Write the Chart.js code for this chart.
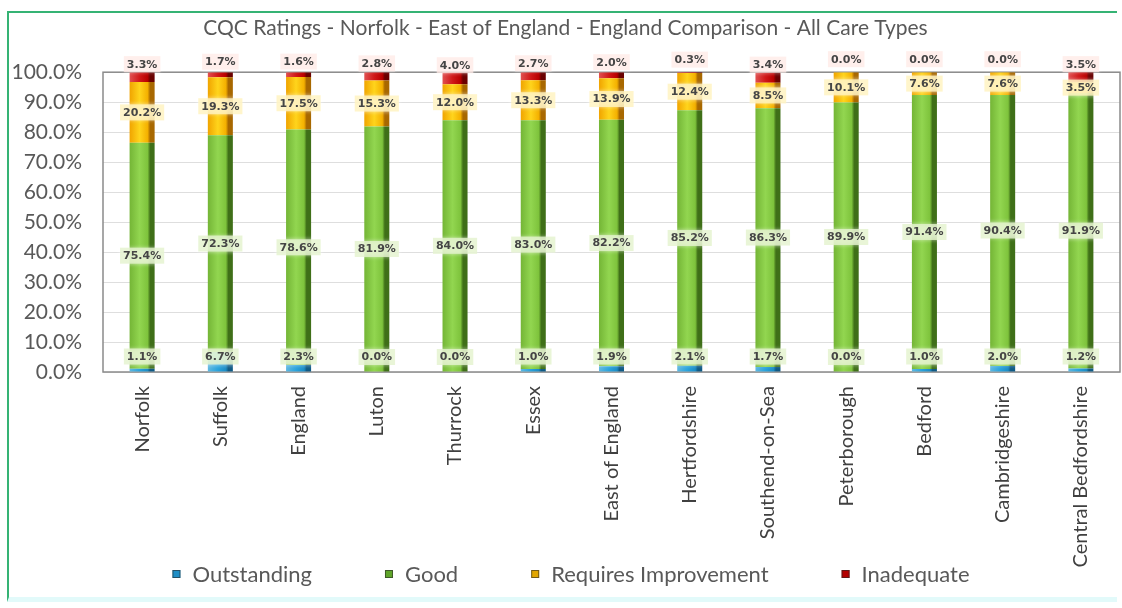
<!DOCTYPE html>
<html>
<head>
<meta charset="utf-8">
<title>CQC Ratings</title>
<script src="https://cdn.jsdelivr.net/npm/chart.js@4.4.1/dist/chart.umd.min.js"></script>
<style>
  body { margin: 0; background: #fff; }
  .frame {
    position: absolute; left: 7px; top: 11px; width: 1108px; height: 584px;
    border-top: 2px solid #35b374; border-left: 2px solid #35b374;
    border-bottom: 5px solid #e2fafa;
  }
  .chart-wrap { position: absolute; left: 0; top: 0; width: 1122px; height: 608px; }
</style>
</head>
<body>
<div class="frame"></div>
<div class="chart-wrap"><canvas id="cqc-chart"></canvas></div>
<script>
const categories = ['Norfolk', 'Suffolk', 'England', 'Luton', 'Thurrock', 'Essex', 'East of England',
  'Hertfordshire', 'Southend-on-Sea', 'Peterborough', 'Bedford', 'Cambridgeshire', 'Central Bedfordshire']
const outstanding = [1.1, 6.7, 2.3, 0.0, 0.0, 1.0, 1.9, 2.1, 1.7, 0.0, 1.0, 2.0, 1.2]
const good = [75.4, 72.3, 78.6, 81.9, 84.0, 83.0, 82.2, 85.2, 86.3, 89.9, 91.4, 90.4, 91.9]
const requiresImprovement = [20.2, 19.3, 17.5, 15.3, 12.0, 13.3, 13.9, 12.4, 8.5, 10.1, 7.6, 7.6, 3.5]
const inadequate = [3.3, 1.7, 1.6, 2.8, 4.0, 2.7, 2.0, 0.3, 3.4, 0.0, 0.0, 0.0, 3.5]
const seriesNames = ['Outstanding', 'Good', 'Requires Improvement', 'Inadequate']
const yTicks = [0, 10, 20, 30, 40, 50, 60, 70, 80, 90, 100]

const BAR_SHARE = 0.8 * 0.4
const FONT = 'Lato'

// left-to-right shading so every bar looks like a little cylinder
const shades = [
  ['#5fb8e0', '#2aa3dc', '#1c8cc4', '#0f5a85'],
  ['#74b536', '#92d650', '#7ec33c', '#3f6f18'],
  ['#f0a400', '#ffd41c', '#f4b000', '#a86800'],
  ['#e05050', '#d01818', '#b80000', '#6a0000']
]
const legendColors = ['#1e8ec6', '#5fa52a', '#e2a600', '#b40000']

const cylinder = (stops) => (ctx) => {
  const chart = ctx.chart
  const area = chart.chartArea
  if (!area || ctx.type !== 'data') return stops[2]
  const x = chart.scales.x.getPixelForValue(ctx.dataIndex)
  const half = area.width / categories.length * BAR_SHARE / 2
  const g = chart.ctx.createLinearGradient(x - half, 0, x + half, 0)
  g.addColorStop(0, stops[0])
  g.addColorStop(0.4, stops[1])
  g.addColorStop(0.72, stops[2])
  g.addColorStop(0.82, stops[3])
  g.addColorStop(1, stops[3])
  return g
}

// grey box round the plot area
const plotFrame = {
  id: 'plotFrame',
  beforeDatasetsDraw(chart) {
    const { ctx, chartArea: a } = chart
    ctx.save()
    ctx.strokeStyle = '#8a8a8a'
    ctx.lineWidth = 1.5
    ctx.strokeRect(a.left, a.top, a.right - a.left, a.bottom - a.top)
    ctx.restore()
  }
}

// value labels: outstanding near the base, good and RI centred, inadequate above the bar
const labelBg = ['rgba(228,242,205,0.8)', 'rgba(228,242,205,0.8)', 'rgba(255,242,190,0.8)', 'rgba(255,232,228,0.7)']
const valueLabels = {
  id: 'valueLabels',
  afterDatasetsDraw(chart) {
    const ctx = chart.ctx
    ctx.save()
    ctx.font = 'bold 11px "DejaVu Sans"'
    ctx.textAlign = 'center'
    ctx.textBaseline = 'middle'
    chart.data.datasets.forEach((ds, di) => {
      chart.getDatasetMeta(di).data.forEach((bar, i) => {
        const v = ds.data[i]
        const text = v.toFixed(1) + '%'
        let y
        if (di === 0) y = bar.base - 15
        else if (di === 3) y = (bar.y + bar.base) / 2 - 13
        else y = (bar.y + bar.base) / 2
        const w = ctx.measureText(text).width + 6
        ctx.shadowColor = 'rgba(255,255,255,0.7)'
        ctx.shadowBlur = 4
        ctx.fillStyle = labelBg[di]
        ctx.fillRect(bar.x - w / 2, y - 8, w, 16)
        ctx.shadowBlur = 0
        ctx.fillStyle = '#454545'
        ctx.fillText(text, bar.x, y + 0.5)
      })
    })
    ctx.restore()
  }
}

// legend row with wide gaps between the entries
const spacedLegend = {
  id: 'spacedLegend',
  afterDraw(chart, args, opts) {
    const ctx = chart.ctx
    const items = chart.data.datasets.map((ds, i) => ({ text: ds.label, color: legendColors[i] }))
    ctx.save()
    ctx.font = opts.size + 'px ' + FONT
    ctx.textBaseline = 'middle'
    const widths = items.map(it => opts.box + opts.boxGap + ctx.measureText(it.text).width)
    const total = widths.reduce((a, b) => a + b, 0) + opts.gap * (items.length - 1)
    let x = opts.centerX - total / 2
    items.forEach((it, i) => {
      ctx.fillStyle = it.color
      ctx.fillRect(x, opts.y - opts.box / 2, opts.box, opts.box)
      ctx.strokeStyle = 'rgba(40,40,40,0.6)'
      ctx.lineWidth = 1
      ctx.strokeRect(x + 0.5, opts.y - opts.box / 2 + 0.5, opts.box - 1, opts.box - 1)
      ctx.fillStyle = '#595959'
      ctx.fillText(it.text, x + opts.box + opts.boxGap, opts.y + 1)
      x += widths[i] + opts.gap
    })
    ctx.restore()
  }
}

const seriesData = [outstanding, good, requiresImprovement, inadequate]

const config = {
  type: 'bar',
  data: {
    labels: categories,
    datasets: seriesNames.map((name, i) => ({
      label: name,
      data: seriesData[i],
      backgroundColor: cylinder(shades[i]),
      borderWidth: 0,
      categoryPercentage: 0.8,
      barPercentage: 0.4
    }))
  },
  options: {
    responsive: true,
    maintainAspectRatio: false,
    animation: false,
    layout: { padding: { top: 16, left: 11, right: 2, bottom: 36 } },
    scales: {
      x: {
        stacked: true,
        grid: { display: false },
        border: { display: false },
        ticks: {
          minRotation: 90, maxRotation: 90, autoSkip: false, padding: 6,
          color: '#404040', font: { family: FONT, size: 20 }
        },
        afterFit: (scale) => { scale.height = 200 }
      },
      y: {
        stacked: true,
        min: 0,
        max: 100,
        afterBuildTicks: (scale) => { scale.ticks = yTicks.map(v => ({ value: v })) },
        grid: { color: '#dedede', drawTicks: false },
        border: { display: false },
        ticks: {
          padding: 21, color: '#595959', font: { family: FONT, size: 21 },
          callback: (v) => v.toFixed(1) + '%'
        },
        afterFit: (scale) => { scale.width = 92 }
      }
    },
    plugins: {
      title: {
        display: true,
        text: 'CQC Ratings - Norfolk - East of England - England Comparison - All Care Types',
        color: '#595959',
        font: { family: FONT, size: 21, weight: 'normal' },
        padding: { top: 0, bottom: 31 }
      },
      legend: { display: false },
      spacedLegend: { size: 22, box: 8, boxGap: 12, gap: 73, y: 574, centerX: 571 },
      tooltip: { enabled: false }
    }
  },
  plugins: [plotFrame, valueLabels, spacedLegend]
}

new Chart(document.getElementById('cqc-chart'), config)
</script>
</body>
</html>
